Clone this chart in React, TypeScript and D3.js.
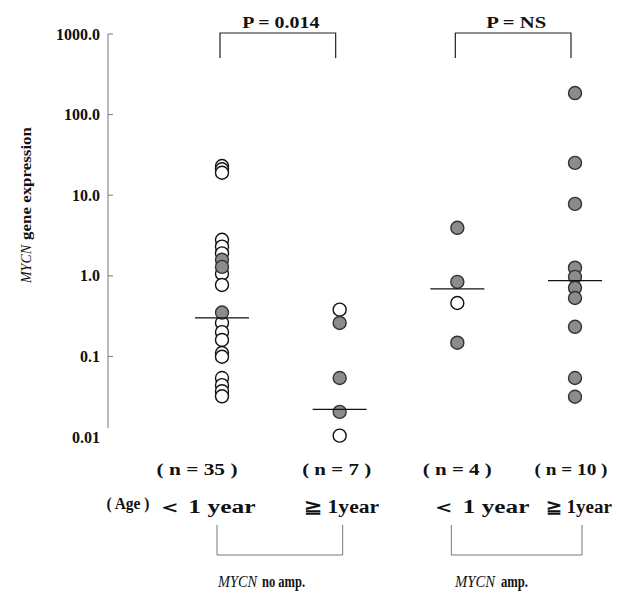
import React from "react";
import * as d3 from "d3";

const groups = ["noAmpYoung", "noAmpOld", "ampYoung", "ampOld"];
const tickValues = [1000, 100, 10, 1, 0.1, 0.01];
const tickLabels = ["1000.0", "100.0", "10.0", "1.0", "0.1", "0.01"];

const openValues: number[][] = [
  [23, 21, 19, 2.8, 2.3, 1.9, 1.06, 0.77, 0.26, 0.2, 0.16, 0.11, 0.099, 0.054, 0.044, 0.037, 0.032],
  [0.38, 0.0104],
  [0.46],
  [],
];
const filledValues: number[][] = [
  [1.58, 1.29, 0.35],
  [0.26, 0.054, 0.0205],
  [3.94, 0.84, 0.148],
  [185, 25.2, 7.8, 1.26, 0.97, 0.71, 0.53, 0.233, 0.054, 0.0316],
];
const medians = [0.3, 0.022, 0.69, 0.87];
const nLabels = ["( n = 35 )", "( n = 7 )", "( n = 4 )", "( n = 10 )"];
const ageLabels = ["＜ 1 year", "≧ 1year", "＜ 1 year", "≧ 1year"];
const pLabels = ["P =  0.014", "P =  NS"];
const ampLabels = ["no amp.", "amp."];

const W = 617;
const H = 593;
const FONT = "'Liberation Serif', 'Times New Roman', serif";

export default function App() {
  const y = d3.scaleLog().domain([0.01, 1000]).range([437, 34]);
  const x = d3.scalePoint<string>().domain(groups).range([222, 575]);
  const axisX = 108;
  const r = 6.5;
  const medHalf = 27;

  // layout offsets for labels (relative to group positions)
  const nDx = [-25, -3, 0, -4];
  const nLen = [81, 69, 69, 73];
  const ageDx = [-16, 2, 23, 4];
  const ageLen = [99, 75, 98, 66];
  const pLen = [77, 60];
  // bottom group label pieces: [mycnStart, mycnLen, restStart, restLen]
  const ampLayout = [
    [218, 39, 262, 43],
    [455, 40, 501, 27],
  ];

  const pairs = [
    [0, 1],
    [2, 3],
  ];

  return (
    <svg
      width={W}
      height={H}
      style={{ position: "absolute", left: 0, top: 0, background: "#fff" }}
      fontFamily={FONT}
    >
      <rect width={W} height={H} fill="#fff" />
      {/* y axis */}
      <line x1={axisX} x2={axisX} y1={y(1000)} y2={428} stroke="#777" strokeWidth={1} />
      {tickValues.map((v, i) => (
        <g key={v}>
          {v > 0.01 && (
            <line x1={axisX} x2={axisX + 5} y1={y(v)} y2={y(v)} stroke="#777" strokeWidth={1} />
          )}
          <text
            x={100}
            y={y(v)}
            dy="0.35em"
            textAnchor="end"
            fontSize={16}
            fontWeight="bold"
            fill="#111"
          >
            {tickLabels[i]}
          </text>
        </g>
      ))}
      <g transform={`translate(31,${205}) rotate(-90)`}>
        <text x={-78} y={0} fontSize={15} fontStyle="italic" fill="#111" textLength={38} lengthAdjust="spacingAndGlyphs">
          MYCN
        </text>
        <text x={-35} y={0} fontSize={15} fontWeight="bold" fill="#111" textLength={113} lengthAdjust="spacingAndGlyphs">
          gene expression
        </text>
      </g>

      {/* points */}
      {groups.map((g, gi) => (
        <g key={g}>
          {openValues[gi].map((v, i) => (
            <circle key={"o" + i} cx={x(g)} cy={y(v)} r={r} fill="#fff" stroke="#111" strokeWidth={1.4} />
          ))}
          {filledValues[gi].map((v, i) => (
            <circle key={"f" + i} cx={x(g)} cy={y(v)} r={r} fill="#8c8c8c" stroke="#333" strokeWidth={1.4} />
          ))}
          <line
            x1={(x(g) as number) - medHalf}
            x2={(x(g) as number) + medHalf}
            y1={y(medians[gi])}
            y2={y(medians[gi])}
            stroke="#111"
            strokeWidth={1.3}
          />
        </g>
      ))}

      {/* top brackets */}
      {pairs.map(([a, b], pi) => {
        const xa = (x(groups[a]) as number) - 2;
        const xb = (x(groups[b]) as number) - 4;
        return (
          <g key={pi}>
            <path d={`M${xa},58V33H${xb}V58`} fill="none" stroke="#222" strokeWidth={1.2} />
            <text
              x={(xa + xb) / 2 + 3}
              y={28}
              textAnchor="middle"
              fontSize={17}
              fontWeight="bold"
              fill="#111"
              textLength={pLen[pi]}
              lengthAdjust="spacingAndGlyphs"
            >
              {pLabels[pi]}
            </text>
          </g>
        );
      })}

      {/* n labels */}
      {groups.map((g, gi) => (
        <text
          key={"n" + g}
          x={(x(g) as number) + nDx[gi]}
          y={475}
          textAnchor="middle"
          fontSize={17}
          fontWeight="bold"
          fill="#111"
          textLength={nLen[gi]}
          lengthAdjust="spacingAndGlyphs"
        >
          {nLabels[gi]}
        </text>
      ))}
      <text x={128} y={509} textAnchor="middle" fontSize={16} fontWeight="bold" fill="#111" textLength={43} lengthAdjust="spacingAndGlyphs">
        ( Age )
      </text>
      {groups.map((g, gi) => (
        <text
          key={"a" + g}
          x={(x(g) as number) + ageDx[gi]}
          y={513}
          textAnchor="middle"
          fontSize={18}
          fontWeight="bold"
          fill="#111"
          textLength={ageLen[gi]}
          lengthAdjust="spacingAndGlyphs"
        >
          {ageLabels[gi]}
        </text>
      ))}

      {/* bottom brackets */}
      {pairs.map(([a, b], pi) => {
        const xa = (x(groups[a]) as number) - (pi === 0 ? 5 : 6);
        const xb = (x(groups[b]) as number) + (pi === 0 ? 3 : 7);
        return (
          <path
            key={"b" + pi}
            d={`M${xa},525V555H${xb}V525`}
            fill="none"
            stroke="#777"
            strokeWidth={1}
          />
        );
      })}
      {ampLayout.map((l, i) => (
        <g key={"amp" + i}>
          <text x={l[0]} y={587} fontSize={16} fontStyle="italic" fill="#111" textLength={l[1]} lengthAdjust="spacingAndGlyphs">
            MYCN
          </text>
          <text x={l[2]} y={587} fontSize={16} fontWeight="bold" fill="#111" textLength={l[3]} lengthAdjust="spacingAndGlyphs">
            {ampLabels[i]}
          </text>
        </g>
      ))}
    </svg>
  );
}
